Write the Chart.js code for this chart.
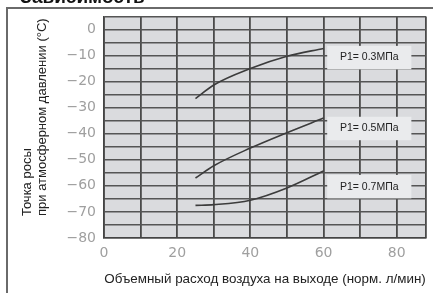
<!DOCTYPE html>
<html>
<head>
<meta charset="utf-8">
<script src="https://cdn.jsdelivr.net/npm/chart.js@4"></script>
<style>
  html, body { margin: 0; padding: 0; background: #fff; }
  #wrap { width: 433px; height: 293px; position: relative; }
</style>
</head>
<body>
<div id="wrap"><canvas id="dew"></canvas></div>
<script>
// flow (norm. l/min) vs dew point (°C) for each inlet pressure
const flow = [25, 30, 40, 50, 60];
const dew03 = [-26.5, -21.3, -15, -10.3, -7.3];
const dew05 = [-57, -52.3, -45.5, -39.6, -34];
const dew07 = [-67.5, -67.2, -65.5, -60.8, -54.3];
const seriesNames = ['P1= 0.3МПа', 'P1= 0.5МПа', 'P1= 0.7МПа'];
// where the pressure labels sit (data units)
const labelX = [72.5, 72.5, 72.5];
const labelY = [-10.8, -38, -60.3];
const yTitle = ['Точка росы', 'при атмосферном давлении (°C)'];

const pts = arr => flow.map((f, i) => ({ x: f, y: arr[i] }));

const plotBg = {
    id: 'plotBg',
    beforeDraw(chart) {
        const { ctx, chartArea: a } = chart;
        ctx.save();
        ctx.fillStyle = '#dadbde';
        ctx.fillRect(a.left, a.top, a.right - a.left, a.bottom - a.top);
        ctx.restore();
    },
    afterDatasetsDraw(chart) {
        const { ctx } = chart;
        const xs = chart.scales.x, ys = chart.scales.y;
        ctx.save();
        seriesNames.forEach((name, i) => {
            const x0 = xs.getPixelForValue(labelX[i] - 11.5);
            const x1 = xs.getPixelForValue(labelX[i] + 11.5);
            const y0 = ys.getPixelForValue(labelY[i] + 4.5);
            const y1 = ys.getPixelForValue(labelY[i] - 4.5);
            ctx.fillStyle = '#eaebed';
            ctx.fillRect(x0, y0, x1 - x0, y1 - y0);
            ctx.fillStyle = '#222';
            ctx.font = '10.5px "Liberation Sans", Arial, sans-serif';
            ctx.textAlign = 'center';
            ctx.textBaseline = 'middle';
            ctx.fillText(name, xs.getPixelForValue(labelX[i]), ys.getPixelForValue(labelY[i]));
        });
        ctx.restore();
    },
    afterDraw(chart) {
        const { ctx } = chart;
        ctx.save();
        // outer frame of the figure
        ctx.strokeStyle = '#6a6a6a';
        ctx.lineWidth = 2;
        ctx.beginPath();
        ctx.moveTo(7, 293);
        ctx.lineTo(7, 8);
        ctx.lineTo(433, 8);
        ctx.stroke();
        // cut-off heading above the figure
        ctx.fillStyle = '#111';
        ctx.font = 'bold 19px "Liberation Sans", Arial, sans-serif';
        ctx.textBaseline = 'alphabetic';
        ctx.fillText('Зависимость', 20, 3);
        // y axis title, both lines start at the same bottom point
        ctx.translate(0, 216);
        ctx.rotate(-Math.PI / 2);
        ctx.fillStyle = '#222';
        ctx.font = '13px "Liberation Sans", Arial, sans-serif';
        ctx.textAlign = 'left';
        ctx.textBaseline = 'middle';
        ctx.fillText(yTitle[0], 0, 27);
        ctx.fillText(yTitle[1], 0, 42);
        ctx.restore();
    }
};

const lineStyle = {
    borderColor: '#3c3c3c',
    borderWidth: 1.6,
    pointRadius: 0,
    tension: 0.4,
    cubicInterpolationMode: 'monotone',
    fill: false
};

new Chart(document.getElementById('dew'), {
    type: 'line',
    data: {
        datasets: [
            { label: seriesNames[0], data: pts(dew03), ...lineStyle },
            { label: seriesNames[1], data: pts(dew05), ...lineStyle },
            { label: seriesNames[2], data: pts(dew07), ...lineStyle }
        ]
    },
    options: {
        responsive: true,
        maintainAspectRatio: false,
        animation: false,
        layout: { padding: { top: 8, right: 0, left: 0, bottom: 0 } },
        plugins: {
            legend: { display: false },
            tooltip: { enabled: false }
        },
        scales: {
            x: {
                type: 'linear',
                min: 0,
                max: 88,
                afterFit: s => { s.height = 55; },
                border: { color: '#444', width: 1.5 },
                grid: { color: '#4a4a4a', lineWidth: 1.8, drawTicks: false },
                ticks: {
                    stepSize: 10,
                    padding: 7,
                    maxRotation: 0,
                    autoSkip: false,
                    color: '#9f9f9f',
                    font: { family: '"DejaVu Sans"', size: 14 },
                    callback: v => (v % 20 === 0 ? String(v) : '')
                },
                title: {
                    display: true,
                    text: 'Объемный расход воздуха на выходе (норм. л/мин)',
                    color: '#222',
                    font: { family: '"Liberation Sans"', size: 13.4 },
                    padding: { top: 0, bottom: 6 }
                }
            },
            y: {
                min: -80,
                max: 5,
                afterFit: s => { s.width = 104; },
                border: { color: '#444', width: 1.5 },
                grid: { color: '#555', lineWidth: 1.4, drawTicks: false },
                ticks: {
                    stepSize: 5,
                    padding: 8,
                    autoSkip: false,
                    color: '#9f9f9f',
                    font: { family: '"DejaVu Sans"', size: 14 },
                    callback: v => (v % 10 === 0 && v <= 0 ? (v < 0 ? '\u2212' + (-v) : '0') : '')
                }
            }
        }
    },
    plugins: [plotBg]
});
</script>
</body>
</html>
